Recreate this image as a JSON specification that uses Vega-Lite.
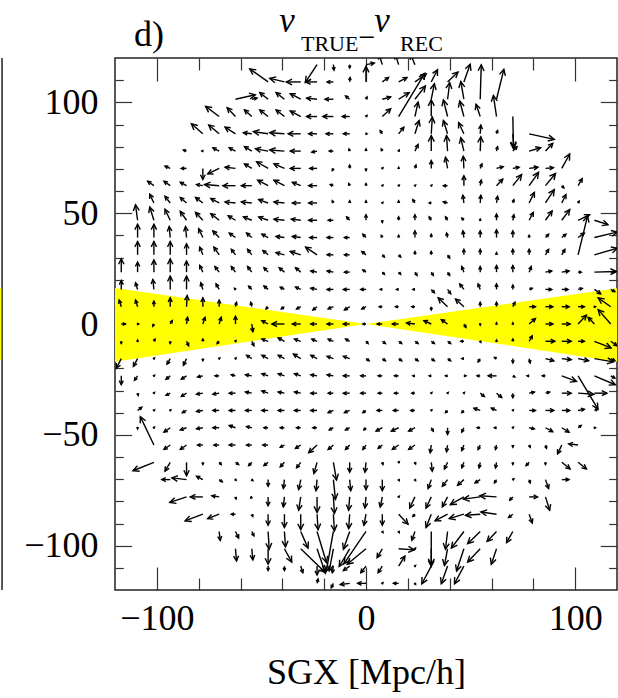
{
  "$schema": "https://vega.github.io/schema/vega-lite/v6.json",
  "width": 502,
  "height": 532,
  "autosize": "none",
  "padding": {"left": 115, "top": 58, "right": 1, "bottom": 108},
  "background": "#ffffff",
  "config": {
    "view": {"stroke": "#222222", "strokeWidth": 1.5},
    "axis": {"domain": false, "grid": false, "tickColor": "#333333", "tickWidth": 1.2, "labelFont": "Liberation Serif", "labelFontSize": 36, "labelColor": "#000000", "titleFont": "Liberation Serif", "titleFontSize": 36, "titleFontWeight": "normal", "titleColor": "#000000"}
  },
  "datasets": {
    "zone": [{"x": -120, "lo": -17, "hi": 16.2}, {"x": 0, "lo": 0, "hi": 0}, {"x": 120, "lo": -17, "hi": 16.1}],
    "flow": [
{"x":-23.4,"y":117,"u":-5.6,"v":-8},{"x":-15.6,"y":117,"u":0.3,"v":-2.5},{"x":-7.8,"y":117,"u":0,"v":-1.5},{"x":0,"y":117,"u":4,"v":0.7},{"x":7.8,"y":117,"u":-1.5,"v":4.5},{"x":15.6,"y":117,"u":-1.5,"v":4.5},{"x":23.4,"y":117,"u":-2,"v":4.5},
{"x":-46.8,"y":109.2,"u":-8.8,"v":5.9},{"x":-39,"y":109.2,"u":-7,"v":1.6},{"x":-31.2,"y":109.2,"u":-6.9,"v":0},{"x":-23.4,"y":109.2,"u":-5.4,"v":0},{"x":-15.6,"y":109.2,"u":-3,"v":0},{"x":-7.8,"y":109.2,"u":0.2,"v":2},{"x":0,"y":109.2,"u":0,"v":7},{"x":7.8,"y":109.2,"u":3,"v":2},{"x":15.6,"y":109.2,"u":4,"v":2},{"x":23.4,"y":109.2,"u":5.4,"v":3.6},{"x":31.2,"y":109.2,"u":3,"v":5.5},{"x":39,"y":109.2,"u":5,"v":4.5},{"x":46.8,"y":109.2,"u":3,"v":8},
{"x":-62.4,"y":101.4,"u":9.5,"v":2},{"x":-54.6,"y":101.4,"u":2.5,"v":0.5},{"x":-46.8,"y":101.4,"u":-4,"v":3},{"x":-39,"y":101.4,"u":-4,"v":3},{"x":-31.2,"y":101.4,"u":-5,"v":2.5},{"x":-23.4,"y":101.4,"u":-5,"v":0.5},{"x":-15.6,"y":101.4,"u":-4,"v":0},{"x":-7.8,"y":101.4,"u":-2,"v":1.5},{"x":0,"y":101.4,"u":0.5,"v":1},{"x":7.8,"y":101.4,"u":4,"v":1},{"x":15.6,"y":101.4,"u":5,"v":3},{"x":23.4,"y":101.4,"u":5,"v":6},{"x":31.2,"y":101.4,"u":1.5,"v":7},{"x":39,"y":101.4,"u":1,"v":7.5},{"x":46.8,"y":101.4,"u":-1.5,"v":8},{"x":54.6,"y":101.4,"u":0.5,"v":15.5},{"x":62.4,"y":101.4,"u":3.5,"v":13.5},
{"x":-70.2,"y":93.6,"u":-6.5,"v":4.6},{"x":-62.4,"y":93.6,"u":-4,"v":4},{"x":-54.6,"y":93.6,"u":-3.5,"v":3},{"x":-46.8,"y":93.6,"u":-4,"v":3},{"x":-39,"y":93.6,"u":-4,"v":3},{"x":-31.2,"y":93.6,"u":-5,"v":2.5},{"x":-23.4,"y":93.6,"u":-5,"v":0},{"x":-15.6,"y":93.6,"u":-5,"v":0},{"x":-7.8,"y":93.6,"u":-3.5,"v":0},{"x":0,"y":93.6,"u":0.5,"v":0.5},{"x":7.8,"y":93.6,"u":4,"v":3.5},{"x":15.6,"y":93.6,"u":12.5,"v":19.5},{"x":23.4,"y":93.6,"u":1.5,"v":6.5},{"x":31.2,"y":93.6,"u":0,"v":7.5},{"x":39,"y":93.6,"u":-2,"v":7.5},{"x":46.8,"y":93.6,"u":-2,"v":7},{"x":54.6,"y":93.6,"u":-2,"v":5.5},{"x":62.4,"y":93.6,"u":-1.5,"v":9.5},{"x":70.2,"y":93.6,"u":0.3,"v":-14.5},
{"x":-78,"y":85.8,"u":-5.5,"v":4.5},{"x":-70.2,"y":85.8,"u":-5,"v":4},{"x":-62.4,"y":85.8,"u":-5,"v":3},{"x":-54.6,"y":85.8,"u":-4,"v":0.5},{"x":-46.8,"y":85.8,"u":-7,"v":1},{"x":-39,"y":85.8,"u":-7,"v":0.5},{"x":-31.2,"y":85.8,"u":-6,"v":0},{"x":-23.4,"y":85.8,"u":-4,"v":0},{"x":-15.6,"y":85.8,"u":-3.5,"v":0},{"x":-7.8,"y":85.8,"u":-3,"v":0},{"x":0,"y":85.8,"u":0.5,"v":0},{"x":7.8,"y":85.8,"u":-1,"v":1.5},{"x":15.6,"y":85.8,"u":2.5,"v":3},{"x":23.4,"y":85.8,"u":2,"v":6},{"x":31.2,"y":85.8,"u":0.5,"v":7.5},{"x":39,"y":85.8,"u":-2,"v":6},{"x":46.8,"y":85.8,"u":-2.5,"v":5},{"x":54.6,"y":85.8,"u":0.3,"v":4},{"x":62.4,"y":85.8,"u":0.5,"v":1.5},{"x":70.2,"y":85.8,"u":0.5,"v":-6},{"x":78,"y":85.8,"u":12,"v":-2.5},
{"x":-85.8,"y":78,"u":-1.5,"v":0.5},{"x":-78,"y":78,"u":-0.5,"v":0},{"x":-70.2,"y":78,"u":-3,"v":1.5},{"x":-62.4,"y":78,"u":-3,"v":1.5},{"x":-54.6,"y":78,"u":-3.5,"v":2},{"x":-46.8,"y":78,"u":-6,"v":1},{"x":-39,"y":78,"u":-7,"v":0.5},{"x":-31.2,"y":78,"u":-5,"v":0},{"x":-23.4,"y":78,"u":-2.5,"v":-0.5},{"x":-15.6,"y":78,"u":-2,"v":0},{"x":-7.8,"y":78,"u":-0.3,"v":1},{"x":0,"y":78,"u":0,"v":1},{"x":7.8,"y":78,"u":-0.5,"v":1},{"x":15.6,"y":78,"u":0.3,"v":0.5},{"x":23.4,"y":78,"u":1.5,"v":3},{"x":31.2,"y":78,"u":0,"v":7},{"x":39,"y":78,"u":-0.5,"v":7},{"x":46.8,"y":78,"u":-1.5,"v":6},{"x":54.6,"y":78,"u":0.3,"v":6.5},{"x":62.4,"y":78,"u":0.5,"v":2},{"x":70.2,"y":78,"u":2,"v":2},{"x":78,"y":78,"u":5.5,"v":1.5},{"x":85.8,"y":78,"u":3.5,"v":3.5},
{"x":-93.6,"y":70.2,"u":-2.5,"v":1},{"x":-85.8,"y":70.2,"u":-2.5,"v":0},{"x":-78,"y":70.2,"u":0,"v":-5},{"x":-70.2,"y":70.2,"u":-5.5,"v":-2.5},{"x":-62.4,"y":70.2,"u":-5,"v":0.5},{"x":-54.6,"y":70.2,"u":-3.5,"v":2},{"x":-46.8,"y":70.2,"u":-5.5,"v":3},{"x":-39,"y":70.2,"u":-5,"v":2},{"x":-31.2,"y":70.2,"u":-5,"v":0},{"x":-23.4,"y":70.2,"u":-3.5,"v":0},{"x":-15.6,"y":70.2,"u":-0.5,"v":-1},{"x":-7.8,"y":70.2,"u":0,"v":1.5},{"x":0,"y":70.2,"u":0,"v":-1},{"x":7.8,"y":70.2,"u":0.3,"v":0.3},{"x":15.6,"y":70.2,"u":0,"v":0.5},{"x":23.4,"y":70.2,"u":0.5,"v":1.5},{"x":31.2,"y":70.2,"u":0,"v":3.5},{"x":39,"y":70.2,"u":-1,"v":5},{"x":46.8,"y":70.2,"u":-0.3,"v":5.5},{"x":54.6,"y":70.2,"u":0.8,"v":2},{"x":62.4,"y":70.2,"u":3.2,"v":0.8},{"x":70.2,"y":70.2,"u":3,"v":0.5},{"x":78,"y":70.2,"u":4.2,"v":0.5},{"x":85.8,"y":70.2,"u":3.8,"v":0.3},{"x":93.6,"y":70.2,"u":3.8,"v":6.5},
{"x":-101.4,"y":62.4,"u":-3,"v":2},{"x":-93.6,"y":62.4,"u":-3,"v":2},{"x":-85.8,"y":62.4,"u":-3,"v":1.5},{"x":-78,"y":62.4,"u":-3,"v":0.5},{"x":-70.2,"y":62.4,"u":-7,"v":0.5},{"x":-62.4,"y":62.4,"u":-6,"v":0},{"x":-54.6,"y":62.4,"u":-5,"v":0},{"x":-46.8,"y":62.4,"u":-5,"v":2.5},{"x":-39,"y":62.4,"u":-5,"v":2.5},{"x":-31.2,"y":62.4,"u":-4,"v":1.5},{"x":-23.4,"y":62.4,"u":-4,"v":0},{"x":-15.6,"y":62.4,"u":-1.5,"v":0.5},{"x":-7.8,"y":62.4,"u":-0.5,"v":1},{"x":0,"y":62.4,"u":0,"v":1},{"x":7.8,"y":62.4,"u":0.3,"v":0.3},{"x":15.6,"y":62.4,"u":0.3,"v":0.3},{"x":23.4,"y":62.4,"u":0.3,"v":0.3},{"x":31.2,"y":62.4,"u":0.3,"v":0.3},{"x":39,"y":62.4,"u":-2,"v":0},{"x":46.8,"y":62.4,"u":0,"v":4.5},{"x":54.6,"y":62.4,"u":0.5,"v":2.5},{"x":62.4,"y":62.4,"u":3,"v":3},{"x":70.2,"y":62.4,"u":4.2,"v":5},{"x":78,"y":62.4,"u":4.5,"v":6},{"x":85.8,"y":62.4,"u":4.8,"v":5.5},{"x":93.6,"y":62.4,"u":1,"v":-1},{"x":101.4,"y":62.4,"u":2,"v":3.2},
{"x":-101.4,"y":54.6,"u":-2,"v":4},{"x":-93.6,"y":54.6,"u":-2.5,"v":3},{"x":-85.8,"y":54.6,"u":-3,"v":2.5},{"x":-78,"y":54.6,"u":-3.5,"v":2.5},{"x":-70.2,"y":54.6,"u":-4,"v":2},{"x":-62.4,"y":54.6,"u":-5,"v":0.5},{"x":-54.6,"y":54.6,"u":-5,"v":0.5},{"x":-46.8,"y":54.6,"u":-4.5,"v":1.5},{"x":-39,"y":54.6,"u":-5,"v":0.5},{"x":-31.2,"y":54.6,"u":-4,"v":0},{"x":-23.4,"y":54.6,"u":-4,"v":0},{"x":-15.6,"y":54.6,"u":-0.5,"v":1},{"x":-7.8,"y":54.6,"u":0,"v":1},{"x":0,"y":54.6,"u":0,"v":1},{"x":7.8,"y":54.6,"u":0.3,"v":0.3},{"x":15.6,"y":54.6,"u":0,"v":1},{"x":23.4,"y":54.6,"u":-1,"v":1.5},{"x":31.2,"y":54.6,"u":-1,"v":0},{"x":39,"y":54.6,"u":-2,"v":0.5},{"x":46.8,"y":54.6,"u":-0.5,"v":3.5},{"x":54.6,"y":54.6,"u":0.3,"v":3.5},{"x":62.4,"y":54.6,"u":0.5,"v":3},{"x":70.2,"y":54.6,"u":0.5,"v":1.5},{"x":78,"y":54.6,"u":2.5,"v":4.8},{"x":85.8,"y":54.6,"u":4.2,"v":6},{"x":93.6,"y":54.6,"u":2,"v":3.8},{"x":101.4,"y":54.6,"u":0.5,"v":0.8},
{"x":-109.2,"y":46.8,"u":-1,"v":7},{"x":-101.4,"y":46.8,"u":-2,"v":6},{"x":-93.6,"y":46.8,"u":-2.5,"v":5},{"x":-85.8,"y":46.8,"u":-3,"v":4},{"x":-78,"y":46.8,"u":-3.5,"v":3.5},{"x":-70.2,"y":46.8,"u":-4,"v":3},{"x":-62.4,"y":46.8,"u":-3.5,"v":2},{"x":-54.6,"y":46.8,"u":-4,"v":1.5},{"x":-46.8,"y":46.8,"u":-4.5,"v":1.5},{"x":-39,"y":46.8,"u":-5,"v":0.5},{"x":-31.2,"y":46.8,"u":-4.5,"v":0.5},{"x":-23.4,"y":46.8,"u":-4,"v":0},{"x":-15.6,"y":46.8,"u":-2.5,"v":0},{"x":-7.8,"y":46.8,"u":-1.5,"v":1.5},{"x":0,"y":46.8,"u":0,"v":2.5},{"x":7.8,"y":46.8,"u":0,"v":-1},{"x":15.6,"y":46.8,"u":0,"v":1.5},{"x":23.4,"y":46.8,"u":0,"v":2.5},{"x":31.2,"y":46.8,"u":-1,"v":1.5},{"x":39,"y":46.8,"u":-1,"v":1.5},{"x":46.8,"y":46.8,"u":-1,"v":1},{"x":54.6,"y":46.8,"u":0,"v":0.5},{"x":62.4,"y":46.8,"u":0,"v":2.8},{"x":70.2,"y":46.8,"u":0.5,"v":2.5},{"x":78,"y":46.8,"u":2,"v":3.5},{"x":85.8,"y":46.8,"u":3.2,"v":4.2},{"x":93.6,"y":46.8,"u":3.8,"v":4.8},{"x":101.4,"y":46.8,"u":5.5,"v":2.5},{"x":109.2,"y":46.8,"u":6.5,"v":-2},
{"x":-109.2,"y":39,"u":0,"v":6},{"x":-101.4,"y":39,"u":0,"v":6},{"x":-93.6,"y":39,"u":-0.5,"v":5},{"x":-85.8,"y":39,"u":-0.5,"v":5},{"x":-78,"y":39,"u":-2,"v":4},{"x":-70.2,"y":39,"u":-3,"v":3},{"x":-62.4,"y":39,"u":-3,"v":2},{"x":-54.6,"y":39,"u":-2.5,"v":2},{"x":-46.8,"y":39,"u":-3,"v":1.5},{"x":-39,"y":39,"u":-4,"v":0.5},{"x":-31.2,"y":39,"u":-4,"v":0.5},{"x":-23.4,"y":39,"u":-3.5,"v":0},{"x":-15.6,"y":39,"u":-3,"v":0},{"x":-7.8,"y":39,"u":-2.5,"v":0},{"x":0,"y":39,"u":-1.5,"v":1.5},{"x":7.8,"y":39,"u":-0.5,"v":1},{"x":15.6,"y":39,"u":0,"v":1},{"x":23.4,"y":39,"u":0,"v":3},{"x":31.2,"y":39,"u":0,"v":1.5},{"x":39,"y":39,"u":-0.5,"v":2},{"x":46.8,"y":39,"u":-0.5,"v":3},{"x":54.6,"y":39,"u":0,"v":3},{"x":62.4,"y":39,"u":0,"v":3.5},{"x":70.2,"y":39,"u":0,"v":3},{"x":78,"y":39,"u":0,"v":1},{"x":85.8,"y":39,"u":1.5,"v":1.5},{"x":93.6,"y":39,"u":2,"v":1.5},{"x":101.4,"y":39,"u":3,"v":2},{"x":109.2,"y":39,"u":11,"v":2.5},
{"x":-109.2,"y":31.2,"u":0,"v":6},{"x":-101.4,"y":31.2,"u":0,"v":6},{"x":-93.6,"y":31.2,"u":0,"v":6},{"x":-85.8,"y":31.2,"u":0,"v":5},{"x":-78,"y":31.2,"u":-1.5,"v":3.5},{"x":-70.2,"y":31.2,"u":-2.5,"v":3.5},{"x":-62.4,"y":31.2,"u":-2,"v":2.5},{"x":-54.6,"y":31.2,"u":-2,"v":2.5},{"x":-46.8,"y":31.2,"u":-2.5,"v":2},{"x":-39,"y":31.2,"u":-4,"v":1},{"x":-31.2,"y":31.2,"u":-5,"v":1.5},{"x":-23.4,"y":31.2,"u":-5.5,"v":3.5},{"x":-15.6,"y":31.2,"u":-3,"v":0},{"x":-7.8,"y":31.2,"u":-2.5,"v":0},{"x":0,"y":31.2,"u":-2,"v":1.5},{"x":7.8,"y":31.2,"u":1,"v":-1},{"x":15.6,"y":31.2,"u":1,"v":-1},{"x":23.4,"y":31.2,"u":0,"v":1.5},{"x":31.2,"y":31.2,"u":0,"v":1.5},{"x":39,"y":31.2,"u":1,"v":-1.5},{"x":46.8,"y":31.2,"u":0,"v":2.5},{"x":54.6,"y":31.2,"u":0,"v":2.5},{"x":62.4,"y":31.2,"u":0,"v":1},{"x":70.2,"y":31.2,"u":0,"v":2.5},{"x":78,"y":31.2,"u":0,"v":2.5},{"x":85.8,"y":31.2,"u":1.5,"v":2.5},{"x":93.6,"y":31.2,"u":1.5,"v":2.5},{"x":101.4,"y":31.2,"u":4.5,"v":17.5},{"x":109.2,"y":31.2,"u":11,"v":3},
{"x":-117,"y":23.4,"u":0,"v":6},{"x":-109.2,"y":23.4,"u":0,"v":4.5},{"x":-101.4,"y":23.4,"u":0,"v":5.5},{"x":-93.6,"y":23.4,"u":0,"v":6},{"x":-85.8,"y":23.4,"u":0,"v":5},{"x":-78,"y":23.4,"u":-1.5,"v":3},{"x":-70.2,"y":23.4,"u":-2,"v":2.5},{"x":-62.4,"y":23.4,"u":-2,"v":2.5},{"x":-54.6,"y":23.4,"u":-2,"v":2.5},{"x":-46.8,"y":23.4,"u":-2,"v":2},{"x":-39,"y":23.4,"u":-2.5,"v":2},{"x":-31.2,"y":23.4,"u":-2.5,"v":2},{"x":-23.4,"y":23.4,"u":-3,"v":0.5},{"x":-15.6,"y":23.4,"u":-3,"v":0.5},{"x":-7.8,"y":23.4,"u":-2.5,"v":0},{"x":0,"y":23.4,"u":-1.5,"v":1},{"x":7.8,"y":23.4,"u":1,"v":-1},{"x":15.6,"y":23.4,"u":1,"v":-1},{"x":23.4,"y":23.4,"u":1,"v":-1.5},{"x":31.2,"y":23.4,"u":1,"v":-1.5},{"x":39,"y":23.4,"u":1,"v":-1.5},{"x":46.8,"y":23.4,"u":-1,"v":2.5},{"x":54.6,"y":23.4,"u":0,"v":2.5},{"x":62.4,"y":23.4,"u":0,"v":3},{"x":70.2,"y":23.4,"u":0,"v":3},{"x":78,"y":23.4,"u":1,"v":2.5},{"x":85.8,"y":23.4,"u":3,"v":0.5},{"x":93.6,"y":23.4,"u":3.5,"v":0.5},{"x":101.4,"y":23.4,"u":1.5,"v":0},{"x":109.2,"y":23.4,"u":10.5,"v":0.3},{"x":117,"y":23.4,"u":2,"v":0},
{"x":-117,"y":15.6,"u":0,"v":4},{"x":-109.2,"y":15.6,"u":-1,"v":3},{"x":-101.4,"y":15.6,"u":-0.5,"v":4.5},{"x":-93.6,"y":15.6,"u":0,"v":6},{"x":-85.8,"y":15.6,"u":0,"v":6},{"x":-78,"y":15.6,"u":-1,"v":3},{"x":-70.2,"y":15.6,"u":-1.5,"v":2.5},{"x":-62.4,"y":15.6,"u":-0.5,"v":0.5},{"x":-54.6,"y":15.6,"u":-1.5,"v":1.5},{"x":-46.8,"y":15.6,"u":-2,"v":1.5},{"x":-39,"y":15.6,"u":-2,"v":1},{"x":-31.2,"y":15.6,"u":-2.5,"v":1},{"x":-23.4,"y":15.6,"u":-3,"v":0.5},{"x":-15.6,"y":15.6,"u":-3,"v":0},{"x":-7.8,"y":15.6,"u":-3,"v":0},{"x":0,"y":15.6,"u":-2.5,"v":0},{"x":7.8,"y":15.6,"u":-1,"v":0},{"x":15.6,"y":15.6,"u":-1,"v":0},{"x":23.4,"y":15.6,"u":-1,"v":0},{"x":31.2,"y":15.6,"u":1.5,"v":-1.5},{"x":39,"y":15.6,"u":1.5,"v":-2},{"x":46.8,"y":15.6,"u":-2,"v":2.5},{"x":54.6,"y":15.6,"u":-1,"v":2.5},{"x":62.4,"y":15.6,"u":0,"v":2.5},{"x":70.2,"y":15.6,"u":0,"v":2},{"x":78,"y":15.6,"u":1.5,"v":0.5},{"x":85.8,"y":15.6,"u":3,"v":0},{"x":93.6,"y":15.6,"u":3,"v":0},{"x":101.4,"y":15.6,"u":2,"v":0.5},{"x":109.2,"y":15.6,"u":3,"v":-2},{"x":117,"y":15.6,"u":2,"v":-1},
{"x":-117,"y":7.8,"u":-1,"v":3},{"x":-109.2,"y":7.8,"u":-1,"v":3},{"x":-101.4,"y":7.8,"u":0,"v":2.5},{"x":-93.6,"y":7.8,"u":0,"v":4},{"x":-85.8,"y":7.8,"u":0.3,"v":5},{"x":-78,"y":7.8,"u":0,"v":4},{"x":-70.2,"y":7.8,"u":0,"v":3},{"x":-62.4,"y":7.8,"u":0.5,"v":2},{"x":-54.6,"y":7.8,"u":-0.5,"v":2},{"x":-46.8,"y":7.8,"u":-1,"v":-1},{"x":-39,"y":7.8,"u":-1.5,"v":-1},{"x":-31.2,"y":7.8,"u":-2,"v":-1},{"x":-23.4,"y":7.8,"u":-2,"v":-1.5},{"x":-15.6,"y":7.8,"u":-2.5,"v":-1},{"x":-7.8,"y":7.8,"u":-2.5,"v":-1.5},{"x":0,"y":7.8,"u":-2,"v":-1},{"x":7.8,"y":7.8,"u":-1.5,"v":0},{"x":15.6,"y":7.8,"u":-1.5,"v":0},{"x":23.4,"y":7.8,"u":-1.5,"v":0},{"x":31.2,"y":7.8,"u":0,"v":-1.5},{"x":39,"y":7.8,"u":-4.5,"v":4},{"x":46.8,"y":7.8,"u":-4,"v":3.5},{"x":54.6,"y":7.8,"u":0,"v":2},{"x":62.4,"y":7.8,"u":0,"v":2},{"x":70.2,"y":7.8,"u":1,"v":2},{"x":78,"y":7.8,"u":3,"v":0},{"x":85.8,"y":7.8,"u":3.5,"v":0},{"x":93.6,"y":7.8,"u":3.5,"v":0},{"x":101.4,"y":7.8,"u":3,"v":0},{"x":109.2,"y":7.8,"u":0.5,"v":0},{"x":117,"y":7.8,"u":-6,"v":4},
{"x":-117,"y":0,"u":2,"v":0},{"x":-109.2,"y":0,"u":0.5,"v":0},{"x":-101.4,"y":0,"u":-0.5,"v":-1},{"x":-93.6,"y":0,"u":1,"v":1.5},{"x":-85.8,"y":0,"u":0.5,"v":3},{"x":-78,"y":0,"u":1,"v":3},{"x":-70.2,"y":0,"u":1,"v":3},{"x":-62.4,"y":0,"u":0,"v":3.5},{"x":-54.6,"y":0,"u":0.5,"v":-3.5},{"x":-46.8,"y":0,"u":-3,"v":1.5},{"x":-39,"y":0,"u":-6,"v":0},{"x":-31.2,"y":0,"u":-4,"v":0},{"x":-23.4,"y":0,"u":-3,"v":0},{"x":-15.6,"y":0,"u":-3,"v":0},{"x":-7.8,"y":0,"u":-3,"v":0},{"x":0,"y":0,"u":-1.5,"v":0},{"x":7.8,"y":0,"u":-2.5,"v":0},{"x":15.6,"y":0,"u":-3,"v":0},{"x":23.4,"y":0,"u":-4,"v":0.5},{"x":31.2,"y":0,"u":-3.5,"v":1.5},{"x":39,"y":0,"u":-3,"v":2},{"x":46.8,"y":0,"u":1,"v":-1.5},{"x":54.6,"y":0,"u":0,"v":-0.5},{"x":62.4,"y":0,"u":0,"v":0.5},{"x":70.2,"y":0,"u":0,"v":0.5},{"x":78,"y":0,"u":3,"v":2.5},{"x":85.8,"y":0,"u":3.5,"v":0},{"x":93.6,"y":0,"u":4,"v":0},{"x":101.4,"y":0,"u":4,"v":4},{"x":109.2,"y":0,"u":-3,"v":3},{"x":117,"y":0,"u":-6,"v":6.5},
{"x":-117,"y":-7.8,"u":0,"v":-1},{"x":-109.2,"y":-7.8,"u":0,"v":0.5},{"x":-101.4,"y":-7.8,"u":0.5,"v":1},{"x":-93.6,"y":-7.8,"u":0,"v":-1},{"x":-85.8,"y":-7.8,"u":1,"v":-2},{"x":-78,"y":-7.8,"u":0,"v":1},{"x":-70.2,"y":-7.8,"u":-1,"v":-1},{"x":-62.4,"y":-7.8,"u":0.3,"v":0.3},{"x":-54.6,"y":-7.8,"u":1,"v":-2},{"x":-46.8,"y":-7.8,"u":-3,"v":1},{"x":-39,"y":-7.8,"u":-3,"v":1.5},{"x":-31.2,"y":-7.8,"u":-3,"v":1},{"x":-23.4,"y":-7.8,"u":-2.5,"v":1},{"x":-15.6,"y":-7.8,"u":-2.5,"v":1},{"x":-7.8,"y":-7.8,"u":-2,"v":1},{"x":0,"y":-7.8,"u":1,"v":-1},{"x":7.8,"y":-7.8,"u":1.5,"v":-1},{"x":15.6,"y":-7.8,"u":1.5,"v":-1},{"x":23.4,"y":-7.8,"u":1.5,"v":-1},{"x":31.2,"y":-7.8,"u":1.5,"v":-1},{"x":39,"y":-7.8,"u":1.5,"v":-1},{"x":46.8,"y":-7.8,"u":-1.5,"v":0},{"x":54.6,"y":-7.8,"u":0.3,"v":-0.5},{"x":62.4,"y":-7.8,"u":0,"v":0.5},{"x":70.2,"y":-7.8,"u":0,"v":1},{"x":78,"y":-7.8,"u":1.5,"v":2.5},{"x":85.8,"y":-7.8,"u":4.5,"v":0},{"x":93.6,"y":-7.8,"u":4.5,"v":0},{"x":101.4,"y":-7.8,"u":3,"v":0},{"x":109.2,"y":-7.8,"u":8,"v":-3},{"x":117,"y":-7.8,"u":3,"v":-2},
{"x":-117,"y":-15.6,"u":-2.4,"v":-4.4},{"x":-109.2,"y":-15.6,"u":-2,"v":-3.5},{"x":-101.4,"y":-15.6,"u":0.3,"v":0.3},{"x":-93.6,"y":-15.6,"u":-1.5,"v":-2.5},{"x":-85.8,"y":-15.6,"u":-1.5,"v":-3},{"x":-78,"y":-15.6,"u":0,"v":-1},{"x":-70.2,"y":-15.6,"u":0.3,"v":0.3},{"x":-62.4,"y":-15.6,"u":0.3,"v":0.3},{"x":-54.6,"y":-15.6,"u":-2.5,"v":1.5},{"x":-46.8,"y":-15.6,"u":-3,"v":1.5},{"x":-39,"y":-15.6,"u":-3,"v":1.5},{"x":-31.2,"y":-15.6,"u":-3.5,"v":2},{"x":-23.4,"y":-15.6,"u":-3,"v":1.5},{"x":-15.6,"y":-15.6,"u":-3,"v":1},{"x":-7.8,"y":-15.6,"u":-3,"v":1},{"x":0,"y":-15.6,"u":1.5,"v":-1},{"x":7.8,"y":-15.6,"u":1.5,"v":-1},{"x":15.6,"y":-15.6,"u":1.5,"v":-1},{"x":23.4,"y":-15.6,"u":1.5,"v":-1},{"x":31.2,"y":-15.6,"u":1.5,"v":-1},{"x":39,"y":-15.6,"u":1.5,"v":-1},{"x":46.8,"y":-15.6,"u":-1,"v":0},{"x":54.6,"y":-15.6,"u":-1,"v":-1.5},{"x":62.4,"y":-15.6,"u":-1,"v":0.5},{"x":70.2,"y":-15.6,"u":0,"v":-2},{"x":78,"y":-15.6,"u":0.5,"v":-2},{"x":85.8,"y":-15.6,"u":4,"v":-1},{"x":93.6,"y":-15.6,"u":4.5,"v":-0.5},{"x":101.4,"y":-15.6,"u":5,"v":-1},{"x":109.2,"y":-15.6,"u":9,"v":-1.5},{"x":117,"y":-15.6,"u":2,"v":-1},
{"x":-117,"y":-23.4,"u":0,"v":-4},{"x":-109.2,"y":-23.4,"u":-1.5,"v":-2},{"x":-101.4,"y":-23.4,"u":0.3,"v":0.3},{"x":-93.6,"y":-23.4,"u":-2,"v":-1.5},{"x":-85.8,"y":-23.4,"u":-2.5,"v":-1.5},{"x":-78,"y":-23.4,"u":-2.5,"v":-0.5},{"x":-70.2,"y":-23.4,"u":-2,"v":0},{"x":-62.4,"y":-23.4,"u":-2,"v":0.5},{"x":-54.6,"y":-23.4,"u":-3,"v":0.5},{"x":-46.8,"y":-23.4,"u":-3,"v":1},{"x":-39,"y":-23.4,"u":-3,"v":1},{"x":-31.2,"y":-23.4,"u":-3,"v":1},{"x":-23.4,"y":-23.4,"u":-3,"v":0.5},{"x":-15.6,"y":-23.4,"u":-3,"v":0.5},{"x":-7.8,"y":-23.4,"u":-3,"v":0},{"x":0,"y":-23.4,"u":-2.5,"v":0},{"x":7.8,"y":-23.4,"u":-2,"v":0},{"x":15.6,"y":-23.4,"u":-2,"v":0},{"x":23.4,"y":-23.4,"u":-1,"v":0},{"x":31.2,"y":-23.4,"u":-1,"v":0},{"x":39,"y":-23.4,"u":-1,"v":0},{"x":46.8,"y":-23.4,"u":1,"v":0},{"x":54.6,"y":-23.4,"u":-1.5,"v":0},{"x":62.4,"y":-23.4,"u":-4,"v":0},{"x":70.2,"y":-23.4,"u":1,"v":-0.5},{"x":78,"y":-23.4,"u":-1,"v":0},{"x":85.8,"y":-23.4,"u":-1.5,"v":0},{"x":93.6,"y":-23.4,"u":7,"v":-2.5},{"x":101.4,"y":-23.4,"u":9.5,"v":-15},{"x":109.2,"y":-23.4,"u":10,"v":-4},{"x":117,"y":-23.4,"u":2,"v":-1},
{"x":-109.2,"y":-31.2,"u":0.3,"v":-1},{"x":-101.4,"y":-31.2,"u":0.3,"v":0.3},{"x":-93.6,"y":-31.2,"u":-2,"v":-1},{"x":-85.8,"y":-31.2,"u":-2.5,"v":-1.5},{"x":-78,"y":-31.2,"u":-3,"v":-0.5},{"x":-70.2,"y":-31.2,"u":-3,"v":-0.5},{"x":-62.4,"y":-31.2,"u":-3,"v":0},{"x":-54.6,"y":-31.2,"u":-3,"v":0.5},{"x":-46.8,"y":-31.2,"u":-3,"v":1},{"x":-39,"y":-31.2,"u":-3,"v":0.5},{"x":-31.2,"y":-31.2,"u":-3,"v":0.5},{"x":-23.4,"y":-31.2,"u":-3,"v":0},{"x":-15.6,"y":-31.2,"u":-2.5,"v":0},{"x":-7.8,"y":-31.2,"u":-3,"v":0},{"x":0,"y":-31.2,"u":-2.5,"v":0},{"x":7.8,"y":-31.2,"u":-2,"v":0},{"x":15.6,"y":-31.2,"u":-2,"v":0},{"x":23.4,"y":-31.2,"u":-1.5,"v":0},{"x":31.2,"y":-31.2,"u":0.3,"v":0.3},{"x":39,"y":-31.2,"u":0.3,"v":0.3},{"x":46.8,"y":-31.2,"u":0.3,"v":0.3},{"x":54.6,"y":-31.2,"u":2,"v":-1.5},{"x":62.4,"y":-31.2,"u":2.5,"v":-2},{"x":70.2,"y":-31.2,"u":0,"v":-2},{"x":78,"y":-31.2,"u":2.5,"v":0.5},{"x":85.8,"y":-31.2,"u":2,"v":0.5},{"x":93.6,"y":-31.2,"u":4.5,"v":0},{"x":101.4,"y":-31.2,"u":7.5,"v":-0.5},{"x":109.2,"y":-31.2,"u":6,"v":0},
{"x":-109.2,"y":-39,"u":2,"v":1.5},{"x":-101.4,"y":-39,"u":0.3,"v":0.3},{"x":-93.6,"y":-39,"u":0.3,"v":0.3},{"x":-85.8,"y":-39,"u":-2,"v":-1},{"x":-78,"y":-39,"u":-3,"v":-0.5},{"x":-70.2,"y":-39,"u":-3,"v":0},{"x":-62.4,"y":-39,"u":-3,"v":0},{"x":-54.6,"y":-39,"u":-3,"v":0},{"x":-46.8,"y":-39,"u":-3,"v":0},{"x":-39,"y":-39,"u":-3,"v":0},{"x":-31.2,"y":-39,"u":-3,"v":0},{"x":-23.4,"y":-39,"u":-3,"v":0},{"x":-15.6,"y":-39,"u":-2.5,"v":-1},{"x":-7.8,"y":-39,"u":-2.5,"v":-1},{"x":0,"y":-39,"u":-1.5,"v":-1},{"x":7.8,"y":-39,"u":-2.5,"v":0},{"x":15.6,"y":-39,"u":-2.5,"v":0},{"x":23.4,"y":-39,"u":-2,"v":0},{"x":31.2,"y":-39,"u":0.3,"v":0.3},{"x":39,"y":-39,"u":-1,"v":-1},{"x":46.8,"y":-39,"u":-1,"v":-1},{"x":54.6,"y":-39,"u":-3,"v":1},{"x":62.4,"y":-39,"u":-2.5,"v":1},{"x":70.2,"y":-39,"u":0.3,"v":0.3},{"x":78,"y":-39,"u":3,"v":0},{"x":85.8,"y":-39,"u":4,"v":0},{"x":93.6,"y":-39,"u":3.8,"v":0},{"x":101.4,"y":-39,"u":3,"v":0.5},{"x":109.2,"y":-39,"u":1.5,"v":0.5},
{"x":-109.2,"y":-46.8,"u":0,"v":-0.5},{"x":-101.4,"y":-46.8,"u":0.3,"v":0.3},{"x":-93.6,"y":-46.8,"u":-3,"v":-2},{"x":-85.8,"y":-46.8,"u":-3,"v":-1},{"x":-78,"y":-46.8,"u":-3,"v":-0.5},{"x":-70.2,"y":-46.8,"u":-3,"v":0},{"x":-62.4,"y":-46.8,"u":-3,"v":1},{"x":-54.6,"y":-46.8,"u":-2.5,"v":0.5},{"x":-46.8,"y":-46.8,"u":-2,"v":0},{"x":-39,"y":-46.8,"u":-2,"v":0},{"x":-31.2,"y":-46.8,"u":-2,"v":0},{"x":-23.4,"y":-46.8,"u":-2,"v":0},{"x":-15.6,"y":-46.8,"u":-2,"v":-1},{"x":-7.8,"y":-46.8,"u":-2,"v":-1},{"x":0,"y":-46.8,"u":-1,"v":-1},{"x":7.8,"y":-46.8,"u":-3,"v":-1.5},{"x":15.6,"y":-46.8,"u":-3.5,"v":-1.5},{"x":23.4,"y":-46.8,"u":-3,"v":-1.5},{"x":31.2,"y":-46.8,"u":1,"v":-1.5},{"x":39,"y":-46.8,"u":0,"v":-3},{"x":46.8,"y":-46.8,"u":-1,"v":-2},{"x":54.6,"y":-46.8,"u":-1.5,"v":0},{"x":62.4,"y":-46.8,"u":-1,"v":0},{"x":70.2,"y":-46.8,"u":0.3,"v":0.3},{"x":78,"y":-46.8,"u":2.5,"v":-0.5},{"x":85.8,"y":-46.8,"u":3.5,"v":-1.8},{"x":93.6,"y":-46.8,"u":3.5,"v":-2},{"x":101.4,"y":-46.8,"u":1.5,"v":1},{"x":109.2,"y":-46.8,"u":0.5,"v":0},
{"x":-101.4,"y":-54.6,"u":-6.5,"v":12.8},{"x":-93.6,"y":-54.6,"u":-3,"v":-2},{"x":-85.8,"y":-54.6,"u":-3,"v":-2},{"x":-78,"y":-54.6,"u":-2.5,"v":0},{"x":-70.2,"y":-54.6,"u":-2.5,"v":0},{"x":-62.4,"y":-54.6,"u":-3,"v":0},{"x":-54.6,"y":-54.6,"u":-2.5,"v":0},{"x":-46.8,"y":-54.6,"u":-2.5,"v":0},{"x":-39,"y":-54.6,"u":-2,"v":-1},{"x":-31.2,"y":-54.6,"u":-2.5,"v":-1.5},{"x":-23.4,"y":-54.6,"u":-4,"v":-3.5},{"x":-15.6,"y":-54.6,"u":-2.5,"v":-2},{"x":-7.8,"y":-54.6,"u":-2,"v":-2},{"x":0,"y":-54.6,"u":-1.5,"v":-2},{"x":7.8,"y":-54.6,"u":-2,"v":-1.5},{"x":15.6,"y":-54.6,"u":-3,"v":-2},{"x":23.4,"y":-54.6,"u":-3,"v":-2},{"x":31.2,"y":-54.6,"u":-0.5,"v":-3.5},{"x":39,"y":-54.6,"u":-0.5,"v":-3},{"x":46.8,"y":-54.6,"u":-1,"v":-2.5},{"x":54.6,"y":-54.6,"u":-1,"v":-2},{"x":62.4,"y":-54.6,"u":-0.5,"v":-2},{"x":70.2,"y":-54.6,"u":0,"v":-1},{"x":78,"y":-54.6,"u":0.5,"v":-1},{"x":85.8,"y":-54.6,"u":0.5,"v":-1.5},{"x":93.6,"y":-54.6,"u":-2,"v":-4},{"x":101.4,"y":-54.6,"u":-4.5,"v":0.5},
{"x":-101.4,"y":-62.4,"u":-10,"v":-3.8},{"x":-93.6,"y":-62.4,"u":-2.5,"v":-4},{"x":-85.8,"y":-62.4,"u":0,"v":-6},{"x":-78,"y":-62.4,"u":0,"v":-1},{"x":-70.2,"y":-62.4,"u":1,"v":-1},{"x":-62.4,"y":-62.4,"u":1.5,"v":-1},{"x":-54.6,"y":-62.4,"u":-1.5,"v":-1.5},{"x":-46.8,"y":-62.4,"u":-2,"v":-1.5},{"x":-39,"y":-62.4,"u":-2,"v":-2},{"x":-31.2,"y":-62.4,"u":-2,"v":-2.5},{"x":-23.4,"y":-62.4,"u":-1.5,"v":-5},{"x":-15.6,"y":-62.4,"u":1.5,"v":-8},{"x":-7.8,"y":-62.4,"u":0,"v":-4.5},{"x":0,"y":-62.4,"u":-0.5,"v":-4.5},{"x":7.8,"y":-62.4,"u":0.3,"v":-1},{"x":15.6,"y":-62.4,"u":0.3,"v":0.3},{"x":23.4,"y":-62.4,"u":0.3,"v":-0.8},{"x":31.2,"y":-62.4,"u":0.5,"v":-4},{"x":39,"y":-62.4,"u":-1.5,"v":-3},{"x":46.8,"y":-62.4,"u":-1,"v":-2.5},{"x":54.6,"y":-62.4,"u":-0.5,"v":-2.5},{"x":62.4,"y":-62.4,"u":-0.5,"v":-2.5},{"x":70.2,"y":-62.4,"u":0,"v":-1},{"x":78,"y":-62.4,"u":-1.5,"v":-1.5},{"x":85.8,"y":-62.4,"u":0,"v":-1},{"x":93.6,"y":-62.4,"u":4,"v":-3},{"x":101.4,"y":-62.4,"u":4,"v":-3},
{"x":-93.6,"y":-70.2,"u":-4,"v":0},{"x":-85.8,"y":-70.2,"u":-7,"v":0.8},{"x":-78,"y":-70.2,"u":-3,"v":1.5},{"x":-70.2,"y":-70.2,"u":1.5,"v":-1},{"x":-62.4,"y":-70.2,"u":0.3,"v":-0.3},{"x":-54.6,"y":-70.2,"u":0.5,"v":-0.5},{"x":-46.8,"y":-70.2,"u":0,"v":-3},{"x":-39,"y":-70.2,"u":-0.5,"v":-4},{"x":-31.2,"y":-70.2,"u":-1,"v":-4.5},{"x":-23.4,"y":-70.2,"u":-0.5,"v":-5},{"x":-15.6,"y":-70.2,"u":1,"v":-9},{"x":-7.8,"y":-70.2,"u":0.5,"v":-5},{"x":0,"y":-70.2,"u":0,"v":-4.5},{"x":7.8,"y":-70.2,"u":0,"v":-5},{"x":15.6,"y":-70.2,"u":0.3,"v":-0.5},{"x":23.4,"y":-70.2,"u":0.3,"v":-0.5},{"x":31.2,"y":-70.2,"u":-1.5,"v":-4},{"x":39,"y":-70.2,"u":-2.5,"v":-3},{"x":46.8,"y":-70.2,"u":-3,"v":-2.5},{"x":54.6,"y":-70.2,"u":-2.5,"v":-1.5},{"x":62.4,"y":-70.2,"u":-1,"v":-1.5},{"x":70.2,"y":-70.2,"u":0.5,"v":0.3},{"x":78,"y":-70.2,"u":0.5,"v":-1.5},{"x":85.8,"y":-70.2,"u":1.5,"v":-4},{"x":93.6,"y":-70.2,"u":3.5,"v":0},
{"x":-85.8,"y":-78,"u":-8,"v":-2.5},{"x":-78,"y":-78,"u":-6,"v":0},{"x":-70.2,"y":-78,"u":-3.5,"v":0.5},{"x":-62.4,"y":-78,"u":0.3,"v":-1},{"x":-54.6,"y":-78,"u":-0.5,"v":-0.5},{"x":-46.8,"y":-78,"u":0,"v":-4},{"x":-39,"y":-78,"u":-0.5,"v":-4.5},{"x":-31.2,"y":-78,"u":-1,"v":-6},{"x":-23.4,"y":-78,"u":0,"v":-7},{"x":-15.6,"y":-78,"u":0.5,"v":-7.5},{"x":-7.8,"y":-78,"u":-0.5,"v":-6},{"x":0,"y":-78,"u":-0.5,"v":-5},{"x":7.8,"y":-78,"u":-1,"v":-4.5},{"x":15.6,"y":-78,"u":0.3,"v":0.3},{"x":23.4,"y":-78,"u":-2.5,"v":-5},{"x":31.2,"y":-78,"u":-2.5,"v":-5},{"x":39,"y":-78,"u":-2.5,"v":-4.5},{"x":46.8,"y":-78,"u":-6.5,"v":-3.5},{"x":54.6,"y":-78,"u":-8,"v":-1},{"x":62.4,"y":-78,"u":-8,"v":0.5},{"x":70.2,"y":-78,"u":-1.5,"v":-1.5},{"x":78,"y":-78,"u":4,"v":0},{"x":85.8,"y":-78,"u":2,"v":-6},
{"x":-78,"y":-85.8,"u":-8.5,"v":-3},{"x":-70.2,"y":-85.8,"u":-5.5,"v":-2},{"x":-62.4,"y":-85.8,"u":-2,"v":0},{"x":-54.6,"y":-85.8,"u":0.5,"v":-1},{"x":-46.8,"y":-85.8,"u":0,"v":-5},{"x":-39,"y":-85.8,"u":0,"v":-6},{"x":-31.2,"y":-85.8,"u":0,"v":-7},{"x":-23.4,"y":-85.8,"u":0.5,"v":-7},{"x":-15.6,"y":-85.8,"u":0.5,"v":-7.5},{"x":-7.8,"y":-85.8,"u":-0.5,"v":-6.5},{"x":0,"y":-85.8,"u":-1,"v":-5},{"x":7.8,"y":-85.8,"u":0,"v":-5},{"x":15.6,"y":-85.8,"u":4.5,"v":-4.5},{"x":23.4,"y":-85.8,"u":-1,"v":-1},{"x":31.2,"y":-85.8,"u":-2.5,"v":-6},{"x":39,"y":-85.8,"u":-6,"v":-3},{"x":46.8,"y":-85.8,"u":-7,"v":-2},{"x":54.6,"y":-85.8,"u":-7,"v":-0.5},{"x":62.4,"y":-85.8,"u":-7.5,"v":1},{"x":70.2,"y":-85.8,"u":-2,"v":-1.5},{"x":78,"y":-85.8,"u":1.5,"v":-4},
{"x":-70.2,"y":-93.6,"u":0.5,"v":-4},{"x":-62.4,"y":-93.6,"u":1.5,"v":-3},{"x":-54.6,"y":-93.6,"u":1,"v":-2},{"x":-46.8,"y":-93.6,"u":0.5,"v":-8},{"x":-39,"y":-93.6,"u":0.5,"v":-7},{"x":-31.2,"y":-93.6,"u":3.5,"v":-7.5},{"x":-23.4,"y":-93.6,"u":4.5,"v":-14},{"x":-15.6,"y":-93.6,"u":-3.4,"v":-18},{"x":-7.8,"y":-93.6,"u":-3,"v":-8},{"x":0,"y":-93.6,"u":-10.5,"v":-14.5},{"x":7.8,"y":-93.6,"u":0.3,"v":-0.5},{"x":15.6,"y":-93.6,"u":0.3,"v":-0.5},{"x":23.4,"y":-93.6,"u":-1.5,"v":-4},{"x":31.2,"y":-93.6,"u":0,"v":-15},{"x":39,"y":-93.6,"u":-1,"v":-8},{"x":46.8,"y":-93.6,"u":-6,"v":-7.5},{"x":54.6,"y":-93.6,"u":-6,"v":-5.5},{"x":62.4,"y":-93.6,"u":-4.5,"v":-4.5},{"x":70.2,"y":-93.6,"u":-3,"v":-5},
{"x":-62.4,"y":-101.4,"u":0.5,"v":-5.5},{"x":-54.6,"y":-101.4,"u":0.5,"v":-5},{"x":-46.8,"y":-101.4,"u":0,"v":-7},{"x":-39,"y":-101.4,"u":3.5,"v":-6},{"x":-31.2,"y":-101.4,"u":11.5,"v":-10.5},{"x":-23.4,"y":-101.4,"u":4,"v":-11},{"x":-15.6,"y":-101.4,"u":-2,"v":-10},{"x":-7.8,"y":-101.4,"u":-5,"v":-8},{"x":0,"y":-101.4,"u":-9,"v":-7},{"x":7.8,"y":-101.4,"u":-2.5,"v":-4},{"x":15.6,"y":-101.4,"u":7.5,"v":-0.5},{"x":23.4,"y":-101.4,"u":0.3,"v":0.3},{"x":31.2,"y":-101.4,"u":0,"v":-8},{"x":39,"y":-101.4,"u":-1.5,"v":-7.5},{"x":46.8,"y":-101.4,"u":-3.5,"v":-10},{"x":54.6,"y":-101.4,"u":-6,"v":-6},{"x":62.4,"y":-101.4,"u":-2.5,"v":-7},
{"x":-46.8,"y":-109.2,"u":0,"v":-2},{"x":-39,"y":-109.2,"u":0,"v":-2},{"x":-31.2,"y":-109.2,"u":1,"v":-3},{"x":-23.4,"y":-109.2,"u":0,"v":-4},{"x":-15.6,"y":-109.2,"u":-0.5,"v":-3},{"x":-7.8,"y":-109.2,"u":-3,"v":-2},{"x":0,"y":-109.2,"u":-2.5,"v":-3},{"x":7.8,"y":-109.2,"u":-2,"v":-3},{"x":15.6,"y":-109.2,"u":3,"v":4.5},{"x":23.4,"y":-109.2,"u":0.3,"v":0.3},{"x":31.2,"y":-109.2,"u":-4.5,"v":-8},{"x":39,"y":-109.2,"u":-3,"v":-8},{"x":46.8,"y":-109.2,"u":-4.5,"v":-8},
{"x":-23.4,"y":-117,"u":0.5,"v":2},{"x":-15.6,"y":-117,"u":-1,"v":-2},{"x":-7.8,"y":-117,"u":-4.5,"v":-0.5},{"x":0,"y":-117,"u":-4,"v":0},{"x":7.8,"y":-117,"u":0.3,"v":0.3},{"x":15.6,"y":-117,"u":-2.5,"v":0},{"x":23.4,"y":-117,"u":0.3,"v":-0.5}
    ]
  },
  "layer": [
    {
      "data": {"name": "zone"},
      "mark": {"type": "area", "color": "#ffff00", "opacity": 1, "orient": "vertical"},
      "encoding": {
        "x": {"field": "x", "type": "quantitative", "scale": {"domain": [-120, 120], "nice": false, "zero": false}, "axis": {"orient": "bottom", "values": [-100, 0, 100], "tickSize": -23, "labelPadding": 34, "title": "SGX [Mpc/h]", "titlePadding": 19}},
        "y": {"field": "lo", "type": "quantitative", "scale": {"domain": [-120, 120], "nice": false, "zero": false}, "axis": {"orient": "left", "values": [-100, -50, 0, 50, 100], "tickSize": -16.7, "labelPadding": 33.7, "title": null}},
        "y2": {"field": "hi"}
      }
    },
    {
      "data": {"name": "flow"},
      "transform": [
        {"calculate": "datum.x + datum.u", "as": "xe"},
        {"calculate": "datum.y + datum.v", "as": "ye"},
        {"calculate": "atan2(datum.u * 2.0917, datum.v * 2.2167) * 180 / PI", "as": "ang"},
        {"calculate": "sqrt(pow(datum.u * 2.0917, 2) + pow(datum.v * 2.2167, 2))", "as": "len"},
        {"calculate": "pow(2 * min(6, 1.4 + 0.3 * datum.len), 2)", "as": "hs"}
      ],
      "layer": [
        {
          "mark": {"type": "rule", "color": "#000000", "strokeWidth": 1.4, "clip": true},
          "encoding": {
            "x": {"field": "x", "type": "quantitative", "scale": {"domain": [-120, 120], "nice": false, "zero": false}, "axis": {"orient": "bottom", "values": [-80, -60, -40, -20, 20, 40, 60, 80], "tickSize": -12, "labels": false, "title": null}},
            "y": {"field": "y", "type": "quantitative", "scale": {"domain": [-120, 120], "nice": false, "zero": false}, "axis": {"orient": "left", "values": [-110, -90, -80, -70, -60, -40, -30, -20, -10, 10, 20, 30, 40, 60, 70, 80, 90, 110], "tickSize": -8.3, "labels": false, "title": null}},
            "x2": {"field": "xe"},
            "y2": {"field": "ye"}
          }
        },
        {
          "mark": {"type": "point", "shape": "M-0.5,1L0,0L0.5,1", "filled": false, "stroke": "#000000", "strokeWidth": 1.4, "opacity": 1, "clip": true},
          "encoding": {
            "x": {"field": "xe", "type": "quantitative", "scale": {"domain": [-120, 120], "nice": false, "zero": false}, "axis": {"orient": "top", "values": [-100, 0, 100], "tickSize": -23, "labels": false, "title": null}},
            "y": {"field": "ye", "type": "quantitative", "scale": {"domain": [-120, 120], "nice": false, "zero": false}, "axis": {"orient": "right", "values": [-100, -50, 0, 50, 100], "tickSize": -16.7, "labels": false, "title": null}},
            "angle": {"field": "ang", "type": "quantitative", "scale": null},
            "size": {"field": "hs", "type": "quantitative", "scale": null}
          }
        }
      ],
      "resolve": {"axis": {"x": "independent", "y": "independent"}}
    },
    {
      "data": {"values": [{}]},
      "mark": {"type": "text", "text": "d)", "font": "Liberation Serif", "fontSize": 36, "align": "left", "baseline": "alphabetic", "color": "#000000"},
      "encoding": {
        "x": {"datum": -110.9, "type": "quantitative", "scale": {"domain": [-120, 120], "nice": false, "zero": false}, "axis": {"orient": "top", "values": [-80, -60, -40, -20, 20, 40, 60, 80], "tickSize": -12, "labels": false, "title": null}},
        "y": {"datum": 125.4, "type": "quantitative", "scale": {"domain": [-120, 120], "nice": false, "zero": false}, "axis": {"orient": "right", "values": [-110, -90, -80, -70, -60, -40, -30, -20, -10, 10, 20, 30, 40, 60, 70, 80, 90, 110], "tickSize": -8.3, "labels": false, "title": null}}
      }
    },
    {
      "data": {"values": [{}]},
      "mark": {"type": "rule", "color": "#222222", "strokeWidth": 1.5},
      "encoding": {"x": {"datum": -174, "type": "quantitative", "axis": null}, "y": {"datum": -120, "type": "quantitative", "axis": null}, "y2": {"datum": 120}}
    },
    {
      "data": {"values": [{}]},
      "mark": {"type": "rect", "color": "#ffff00", "opacity": 1},
      "encoding": {"x": {"datum": -176, "type": "quantitative", "axis": null}, "x2": {"datum": -174.4}, "y": {"datum": -16.2, "type": "quantitative", "axis": null}, "y2": {"datum": 16.2}}
    },
    {
      "data": {"values": [{}]},
      "mark": {"type": "text", "text": "v", "font": "Liberation Serif", "fontStyle": "italic", "fontSize": 35, "align": "left", "baseline": "alphabetic", "color": "#000000"},
      "encoding": {"x": {"datum": -41.5, "type": "quantitative", "axis": null}, "y": {"datum": 131.6, "type": "quantitative", "axis": null}}
    },
    {
      "data": {"values": [{}]},
      "mark": {"type": "text", "text": "TRUE", "font": "Liberation Serif", "fontSize": 22, "align": "left", "baseline": "alphabetic", "color": "#000000"},
      "encoding": {"x": {"datum": -31.1, "type": "quantitative", "axis": null}, "y": {"datum": 123.2, "type": "quantitative", "axis": null}}
    },
    {
      "data": {"values": [{}]},
      "mark": {"type": "text", "text": "−", "font": "Liberation Serif", "fontSize": 30, "align": "center", "baseline": "alphabetic", "color": "#000000"},
      "encoding": {"x": {"datum": 0.4, "type": "quantitative", "axis": null}, "y": {"datum": 125, "type": "quantitative", "axis": null}}
    },
    {
      "data": {"values": [{}]},
      "mark": {"type": "text", "text": "v", "font": "Liberation Serif", "fontStyle": "italic", "fontSize": 35, "align": "left", "baseline": "alphabetic", "color": "#000000"},
      "encoding": {"x": {"datum": 4, "type": "quantitative", "axis": null}, "y": {"datum": 131.6, "type": "quantitative", "axis": null}}
    },
    {
      "data": {"values": [{}]},
      "mark": {"type": "text", "text": "REC", "font": "Liberation Serif", "fontSize": 22, "align": "left", "baseline": "alphabetic", "color": "#000000"},
      "encoding": {"x": {"datum": 16.3, "type": "quantitative", "axis": null}, "y": {"datum": 123.2, "type": "quantitative", "axis": null}}
    }
  ],
  "resolve": {"axis": {"x": "independent", "y": "independent"}}
}
